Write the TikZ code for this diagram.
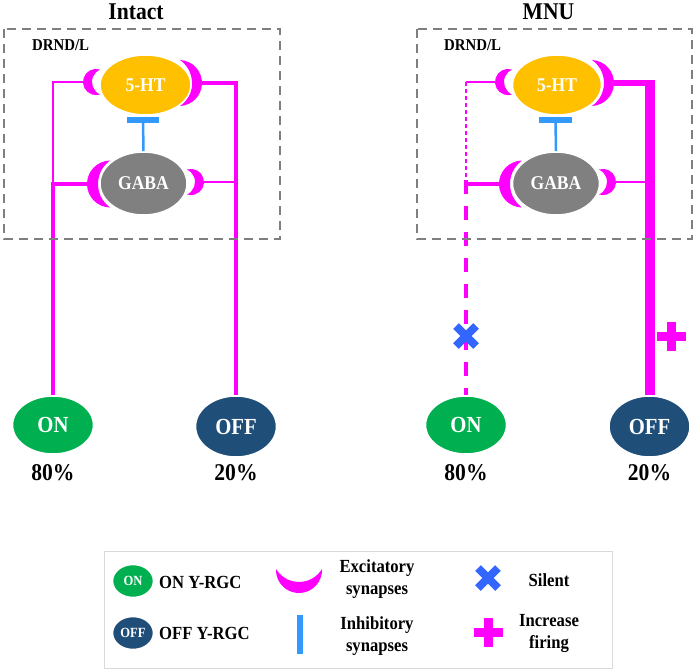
\documentclass[tikz,border=0pt]{standalone}
\usepackage{fontspec}
\setmainfont{Liberation Serif}[FakeStretch=0.9]
\usetikzlibrary{shapes.geometric,backgrounds,calc}
\definecolor{exc}{HTML}{FF00FF}
\definecolor{htc}{HTML}{FFC000}
\definecolor{gabac}{HTML}{808080}
\definecolor{onc}{HTML}{00B050}
\definecolor{offc}{HTML}{1F4E79}
\definecolor{inhc}{HTML}{3399FF}
\definecolor{silc}{HTML}{3366FF}
\definecolor{boxc}{HTML}{7F7F7F}
\definecolor{legc}{HTML}{D9D9D9}
% crescent: #1 scope options, #2 half height, #3 outer sagitta, #4 inner sagitta
\newcommand{\crescent}[4]{%
 \begin{scope}[#1]
 \pgfmathsetmacro\Ro{(#2*#2+#3*#3)/(2*#3)}
 \pgfmathsetmacro\Ri{(#2*#2+#4*#4)/(2*#4)}
 \pgfmathsetmacro\ao{atan2(#2,\Ro-#3)}
 \pgfmathsetmacro\ai{atan2(#2,\Ri-#4)}
 \fill[exc] (0,-#2) arc[start angle=-\ao, end angle=\ao, radius=\Ro] arc[start angle=\ai, end angle=-\ai, radius=\Ri] -- cycle;
 \end{scope}}
\newcommand{\silentmark}[2]{\draw[silc, line width=8pt] (#1-10,#2-10) -- (#1+10,#2+10) (#1-10,#2+10) -- (#1+10,#2-10);}
\newcommand{\plusmark}[2]{\draw[exc, line width=9pt] (#1-14.5,#2) -- (#1+14.5,#2) (#1,#2-14.5) -- (#1,#2+14.5);}
\begin{document}
\begin{tikzpicture}[x=1pt,y=-1pt,
  cell/.style={ellipse, draw=white, line width=1.5pt, inner sep=0pt, text=white},
  celltxt/.style={font=\fontsize{19.5}{22}\selectfont\bfseries},
  rgctxt/.style={font=\fontsize{23}{26}\selectfont\bfseries},
  ttl/.style={font=\fontsize{24}{28}\selectfont\bfseries, inner sep=0pt},
  lbl/.style={font=\fontsize{16.5}{19}\selectfont\bfseries, inner sep=0pt},
  pct/.style={font=\fontsize{24}{28}\selectfont\bfseries, inner sep=0pt},
  legt/.style={font=\fontsize{18.5}{22}\selectfont\bfseries, inner sep=0pt},
  dbox/.style={boxc, line width=2.5pt, dash pattern=on 9pt off 6pt},
  thinl/.style={exc, line width=1.5pt},
  thickl/.style={exc, line width=4.5pt},
  inhl/.style={inhc, line width=2.5pt},
  inhbar/.style={inhc, line width=6pt}]
\useasboundingbox (0,0) rectangle (697,672);
% titles and boxes
\node[ttl] (t1) at (136,12) {Intact};
\node[ttl] (t2) at (548.5,12) {MNU};
\draw[dbox] (4,29) rectangle (280,239);
\draw[dbox] (417,29) rectangle (692,239);
\node[lbl, anchor=west] (d1) at (32,45) {DRND/L};
\node[lbl, anchor=west] (d2) at (444,45) {DRND/L};
% Intact cells
\node[cell, celltxt, fill=htc, minimum width=91, minimum height=60] (ht1) at (145.5,85) {5-HT};
\node[cell, celltxt, fill=gabac, minimum width=87, minimum height=63] (gaba1) at (143.5,183.5) {GABA};
\node[cell, rgctxt, fill=onc, minimum width=81, minimum height=58] (on1) at (53,425) {ON};
\node[cell, rgctxt, fill=offc, minimum width=81, minimum height=61] (off1) at (236,426.5) {OFF};
\node[pct] (p1) at (53,473) {80\%};
\node[pct] (p2) at (236,473) {20\%};
% MNU cells
\node[cell, celltxt, fill=htc, minimum width=89, minimum height=60] (ht2) at (557,85) {5-HT};
\node[cell, celltxt, fill=gabac, minimum width=87, minimum height=63] (gaba2) at (556,183.5) {GABA};
\node[cell, rgctxt, fill=onc, minimum width=81, minimum height=58] (on2) at (466,425) {ON};
\node[cell, rgctxt, fill=offc, minimum width=81, minimum height=61] (off2) at (649.5,426.5) {OFF};
\node[pct] (p3) at (466,473) {80\%};
\node[pct] (p4) at (649.5,473) {20\%};
% synapse attachment points
\coordinate (hl1) at (87,82);
\coordinate (hr1) at (199,83);
\coordinate (gl1) at (90,184);
\coordinate (gr1) at (201,182);
\coordinate (inh1) at (143,120);
\coordinate (hl2) at (499,82);
\coordinate (hr2) at (611,83);
\coordinate (gl2) at (502,184);
\coordinate (gr2) at (613,182);
\coordinate (inh2) at (555.5,120);
\begin{pgfonlayer}{background}
 % Intact connectors
 \draw[thinl] (on1.north |- gl1) |- (hl1);
 \draw[thickl] (on1.north) |- (gl1);
 \draw[thickl] (off1.north) |- (hr1);
 \draw[thinl] (gr1) -- (gr1 -| off1.north);
 \draw[inhl] (inh1) -- (gaba1.north);
 \draw[inhbar] ([xshift=-16pt]inh1) -- ([xshift=16pt]inh1);
 % MNU connectors
 \draw[thinl, dash pattern=on 4pt off 3pt] (on2.north |- gl2) -- (on2.north |- hl2);
 \draw[thinl] (on2.north |- hl2) -- (hl2);
 \draw[thickl] (on2.north |- gl2) -- (gl2);
 \draw[thickl, dash pattern=on 14pt off 12pt] ($(on2.north |- gl2)+(0,-4)$) -- (on2.north);
 \draw[exc, line width=6pt] (hr2) -- (hr2 -| off2.north);
 \draw[exc, line width=10pt] (off2.north) -- ($(hr2 -| off2.north)+(0,-3)$);
 \draw[thinl] (gr2) -- (gr2 -| off2.north);
 \draw[inhl] (inh2) -- (gaba2.north);
 \draw[inhbar] ([xshift=-16.5pt]inh2) -- ([xshift=16.5pt]inh2);
 % synapses Intact
 \crescent{shift={(100,82)},xscale=-1}{12.5}{17}{8}
 \crescent{shift={(180,83)}}{23}{22}{12}
 \crescent{shift={(110,184)},xscale=-1}{23.5}{23}{12}
 \crescent{shift={(187,182)}}{12.5}{17}{8}
 % synapses MNU
 \crescent{shift={(512,82)},xscale=-1}{12.5}{17}{8}
 \crescent{shift={(592,83)}}{23}{22}{12}
 \crescent{shift={(522,184)},xscale=-1}{23.5}{23}{12}
 \crescent{shift={(599,182)}}{12.5}{17}{8}
\end{pgfonlayer}
% markers
\silentmark{466}{336}
\plusmark{671}{336}
% legend
\draw[legc, line width=1pt] (104,551) rectangle (612,668);
\node[cell, fill=onc, minimum width=41, minimum height=33, font=\fontsize{14}{16}\selectfont\bfseries] (lon) at (133,581) {ON};
\node[legt, anchor=west] (lont) at (159,582) {ON Y-RGC};
\node[cell, fill=offc, minimum width=41, minimum height=33, font=\fontsize{14}{16}\selectfont\bfseries] (loff) at (133,633) {OFF};
\node[legt, anchor=west] (lofft) at (159,633) {OFF Y-RGC};
\crescent{shift={(299,569)},rotate=-90}{23}{24}{13}
\node[legt, align=center] (lexc) at (377,579) {Excitatory\\synapses};
\draw[inhc, line width=6pt] (300,615) -- (300,654);
\node[legt, align=center] (linh) at (377,636) {Inhibitory\\synapses};
\silentmark{488}{578}
\node[legt] (lsil) at (549,580) {Silent};
\plusmark{488}{632}
\node[legt, align=center] (linc) at (549,633) {Increase\\firing};
\end{tikzpicture}
\end{document}
